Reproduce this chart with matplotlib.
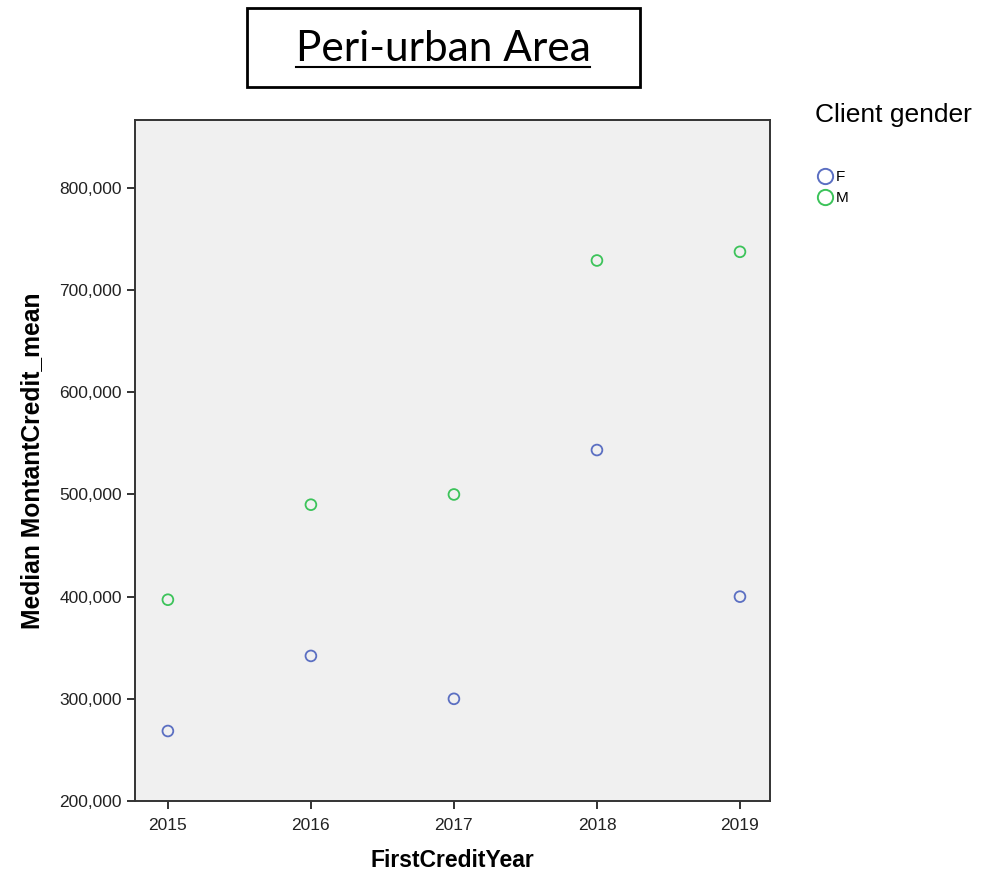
import matplotlib.pyplot as plt
from matplotlib.patches import Rectangle
from matplotlib.lines import Line2D
from matplotlib.ticker import FuncFormatter

# Median credit amount by first credit year and gender
years = [2015, 2016, 2017, 2018, 2019]
female = [268500, 342000, 300000, 543500, 400000]
male = [397000, 490000, 500000, 729000, 737500]

blue = "#5b6fc2"
green = "#3cc35a"

fig = plt.figure(figsize=(9.81, 8.76), dpi=100)
ax = fig.add_axes([135 / 981, 75 / 876, 635 / 981, 681 / 876])
ax.set_facecolor("#f0f0f0")

ax.scatter(years, female, s=60, facecolors="none", edgecolors=blue, linewidths=1.3, zorder=3)
ax.scatter(years, male, s=60, facecolors="none", edgecolors=green, linewidths=1.3, zorder=3)

ax.set_xlim(2014.77, 2019.21)
ax.set_ylim(200000, 866500)
ax.set_xticks(years)
ax.set_yticks([200000, 300000, 400000, 500000, 600000, 700000, 800000])
ax.yaxis.set_major_formatter(FuncFormatter(lambda v, p: f"{int(v):,}"))

for s in ax.spines.values():
    s.set_color("#333333")
    s.set_linewidth(1.4)
ax.tick_params(direction="out", length=6, width=1.4, color="#333333", labelcolor="#222222")
ax.tick_params(axis="y", labelsize=12.5)
ax.tick_params(axis="x", labelsize=12.5, pad=6)
for lab in ax.get_xticklabels() + ax.get_yticklabels():
    lab.set_family("Liberation Sans")

ax.set_xlabel("FirstCreditYear", fontsize=16.5, fontweight="bold", family="Liberation Sans", labelpad=12)
ax.set_ylabel("Median MontantCredit_mean", fontsize=17.7, fontweight="bold", family="Liberation Sans", labelpad=11)

# title in a box, underlined
fig.patches.append(Rectangle((247 / 981, 1 - 87 / 876), 393 / 981, 79 / 876,
                             transform=fig.transFigure, fill=False, edgecolor="black", linewidth=2))
title = fig.text(443 / 981, 1 - 61 / 876, "Peri-urban Area", fontsize=30.5, family="Lato",
                 ha="center", va="baseline")
fig.canvas.draw()
bb = title.get_window_extent().transformed(fig.transFigure.inverted())
fig.lines.append(Line2D([bb.x0, bb.x1], [1 - 67 / 876] * 2, transform=fig.transFigure,
                        color="black", linewidth=1.5))

# legend
fig.text(815 / 981, 1 - 115 / 876, "Client gender", fontsize=19, family="Liberation Sans", va="center")
fig.lines.append(Line2D([825 / 981], [1 - 176 / 876], marker="o", markersize=11, markerfacecolor="none",
                        markeredgecolor=blue, markeredgewidth=1.4, transform=fig.transFigure))
fig.lines.append(Line2D([825 / 981], [1 - 197 / 876], marker="o", markersize=11, markerfacecolor="none",
                        markeredgecolor=green, markeredgewidth=1.4, transform=fig.transFigure))
fig.text(836 / 981, 1 - 177 / 876, "F", fontsize=11, family="Liberation Sans", va="center")
fig.text(836 / 981, 1 - 198 / 876, "M", fontsize=11, family="Liberation Sans", va="center")

fig.savefig("out.png", dpi=100)
